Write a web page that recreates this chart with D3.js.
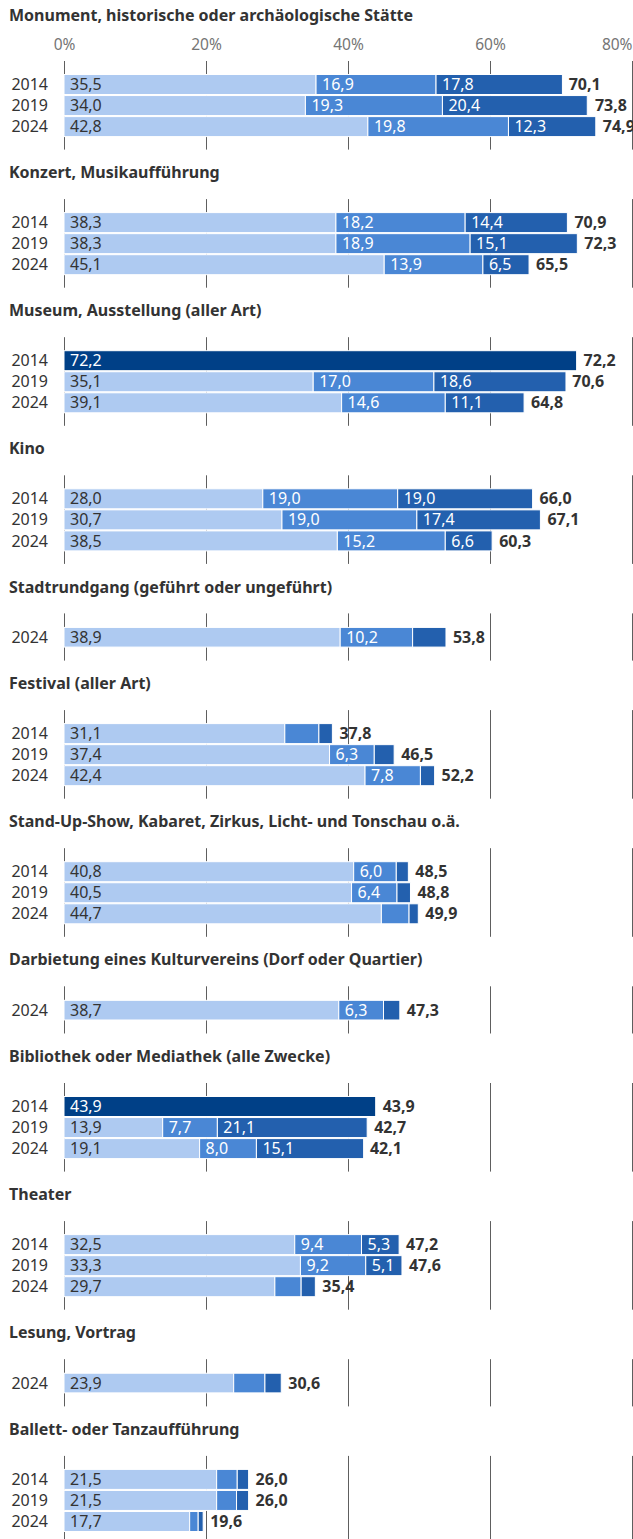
<!DOCTYPE html>
<html>
<head>
<meta charset="utf-8">
<script src="https://cdn.jsdelivr.net/npm/d3@7"></script>
<style>
  body { margin: 0; background: #fff; }
  svg { display: block; font-family: "Noto Sans", sans-serif; }
</style>
</head>
<body>
<div id="wrapper"></div>
<script>
// Kategorien (Panel-Titel)
const titles = [
    "Monument, historische oder archäologische Stätte",
    "Konzert, Musikaufführung",
    "Museum, Ausstellung (aller Art)",
    "Kino",
    "Stadtrundgang (geführt oder ungeführt)",
    "Festival (aller Art)",
    "Stand-Up-Show, Kabaret, Zirkus, Licht- und Tonschau o.ä.",
    "Darbietung eines Kulturvereins (Dorf oder Quartier)",
    "Bibliothek oder Mediathek (alle Zwecke)",
    "Theater",
    "Lesung, Vortrag",
    "Ballett- oder Tanzaufführung"
]

const years = [
    ["2014", "2019", "2024"],
    ["2014", "2019", "2024"],
    ["2014", "2019", "2024"],
    ["2014", "2019", "2024"],
    ["2024"],
    ["2014", "2019", "2024"],
    ["2014", "2019", "2024"],
    ["2024"],
    ["2014", "2019", "2024"],
    ["2014", "2019", "2024"],
    ["2024"],
    ["2014", "2019", "2024"]
]

// drei Teil-Serien (null = nur Gesamtwert erhoben)
const serie1 = [
    [35.5, 34.0, 42.8],
    [38.3, 38.3, 45.1],
    [null, 35.1, 39.1],
    [28.0, 30.7, 38.5],
    [38.9],
    [31.1, 37.4, 42.4],
    [40.8, 40.5, 44.7],
    [38.7],
    [null, 13.9, 19.1],
    [32.5, 33.3, 29.7],
    [23.9],
    [21.5, 21.5, 17.7]
]

const serie2 = [
    [16.9, 19.3, 19.8],
    [18.2, 18.9, 13.9],
    [null, 17.0, 14.6],
    [19.0, 19.0, 15.2],
    [10.2],
    [4.8, 6.3, 7.8],
    [6.0, 6.4, 3.9],
    [6.3],
    [null, 7.7, 8.0],
    [9.4, 9.2, 3.7],
    [4.4],
    [2.9, 2.8, 1.2]
]

const serie3 = [
    [17.8, 20.4, 12.3],
    [14.4, 15.1, 6.5],
    [null, 18.6, 11.1],
    [19.0, 17.4, 6.6],
    [4.7],
    [1.9, 2.8, 2.0],
    [1.7, 1.9, 1.3],
    [2.3],
    [null, 21.1, 15.1],
    [5.3, 5.1, 2.0],
    [2.3],
    [1.6, 1.7, 0.7]
]

const totals = [
    [70.1, 73.8, 74.9],
    [70.9, 72.3, 65.5],
    [72.2, 70.6, 64.8],
    [66.0, 67.1, 60.3],
    [53.8],
    [37.8, 46.5, 52.2],
    [48.5, 48.8, 49.9],
    [47.3],
    [43.9, 42.7, 42.1],
    [47.2, 47.6, 35.4],
    [30.6],
    [26.0, 26.0, 19.6]
]

const tickValues = [0, 20, 40, 60, 80]

let dimensions = {
    width: 633,
    height: 1539,
    left: 64,
    right: 632,
    rowPitch: 20.7,
    titleToGrid: 26.5,
    gridPad: 13.5,
    gapAfter: 23,
    axisExtra: 19.5
}

const colors = ["#aecaf1", "#4a87d5", "#2360ae"]
const colorTotal = "#004087"
const textDark = "#333333"
const fontSize = "16px"

const de = d3.formatLocale({ decimal: ",", thousands: ".", grouping: [3], currency: ["", ""] })
const fmt = de.format(".1f")

const xScale = d3.scaleLinear()
    .domain([0, 80])
    .range([dimensions.left, dimensions.right])

const svg = d3.select("#wrapper")
    .append("svg")
    .attr("width", dimensions.width)
    .attr("height", dimensions.height)

let titleY = 15

titles.forEach(function (title, i) {
    const g = svg.append("g")

    g.append("text")
        .attr("x", 9)
        .attr("y", titleY)
        .attr("dy", "0.35em")
        .style("font-size", fontSize)
        .style("font-weight", "bold")
        .style("fill", textDark)
        .text(title)

    let gridTop = titleY + dimensions.titleToGrid
    if (i === 0) {
        gridTop += dimensions.axisExtra
        // Achsenbeschriftung oben
        const axis = g.append("g")
            .attr("transform", "translate(0," + (titleY + 38) + ")")
            .call(d3.axisTop(xScale).tickValues(tickValues).tickSize(0).tickFormat(d => d + "%"))
        axis.select(".domain").remove()
        axis.selectAll("text")
            .style("font-family", "Noto Sans, sans-serif")
            .style("font-size", "15.5px")
            .style("fill", "#757575")
            .attr("text-anchor", d => d === 80 ? "end" : "middle")
    }

    const n = years[i].length
    const barsTop = gridTop + dimensions.gridPad
    const barsBottom = barsTop + n * dimensions.rowPitch
    const gridBottom = barsBottom + 13

    const yScale = d3.scaleBand()
        .domain(years[i])
        .range([barsTop, barsBottom])
        .paddingInner(0.05)

    // vertikale Gitterlinien
    const grid = g.append("g")
        .attr("transform", "translate(0," + gridTop + ")")
        .call(d3.axisBottom(xScale).tickValues(tickValues).tickSize(gridBottom - gridTop).tickFormat(""))
    grid.select(".domain").remove()
    grid.selectAll("line").attr("stroke", "#5e5e5e")

    const rows = years[i].map(function (yr, j) {
        const parts = [serie1[i][j], serie2[i][j], serie3[i][j]]
        let segs = []
        if (parts[0] === null) {
            segs.push({ start: 0, value: totals[i][j], color: colorTotal, textColor: "#fff" })
        } else {
            let acc = 0
            parts.forEach(function (v, k) {
                segs.push({ start: acc, value: v, color: colors[k], textColor: k === 0 ? textDark : "#fff" })
                acc += v
            })
        }
        return { year: yr, total: totals[i][j], segs: segs }
    })

    const row = g.selectAll(".row")
        .data(rows)
        .enter()
        .append("g")
        .attr("class", "row")

    row.append("text")
        .attr("x", 48)
        .attr("y", d => yScale(d.year) + yScale.bandwidth() / 2)
        .attr("dy", "0.35em")
        .attr("text-anchor", "end")
        .style("font-size", fontSize)
        .style("fill", textDark)
        .text(d => d.year)

    row.each(function (d) {
        const r = d3.select(this)
        const y0 = yScale(d.year)
        const h = yScale.bandwidth()

        r.selectAll("rect")
            .data(d.segs)
            .enter()
            .append("rect")
            .attr("x", s => xScale(s.start))
            .attr("y", y0)
            .attr("width", s => xScale(s.start + s.value) - xScale(s.start))
            .attr("height", h)
            .attr("fill", s => s.color)
            .attr("stroke", "#fff")
            .attr("stroke-width", 1)

        r.selectAll(".seglabel")
            .data(d.segs.filter(s => s.value >= 5))
            .enter()
            .append("text")
            .attr("class", "seglabel")
            .attr("x", s => xScale(s.start) + 6)
            .attr("y", y0 + h / 2)
            .attr("dy", "0.35em")
            .style("font-size", fontSize)
            .style("fill", s => s.textColor)
            .text(s => fmt(s.value))

        r.append("text")
            .attr("x", xScale(d.total) + 7)
            .attr("y", y0 + h / 2)
            .attr("dy", "0.35em")
            .style("font-size", fontSize)
            .style("font-weight", "bold")
            .style("fill", textDark)
            .text(fmt(d.total))
    })

    titleY = gridBottom + dimensions.gapAfter
})
</script>
</body>
</html>
